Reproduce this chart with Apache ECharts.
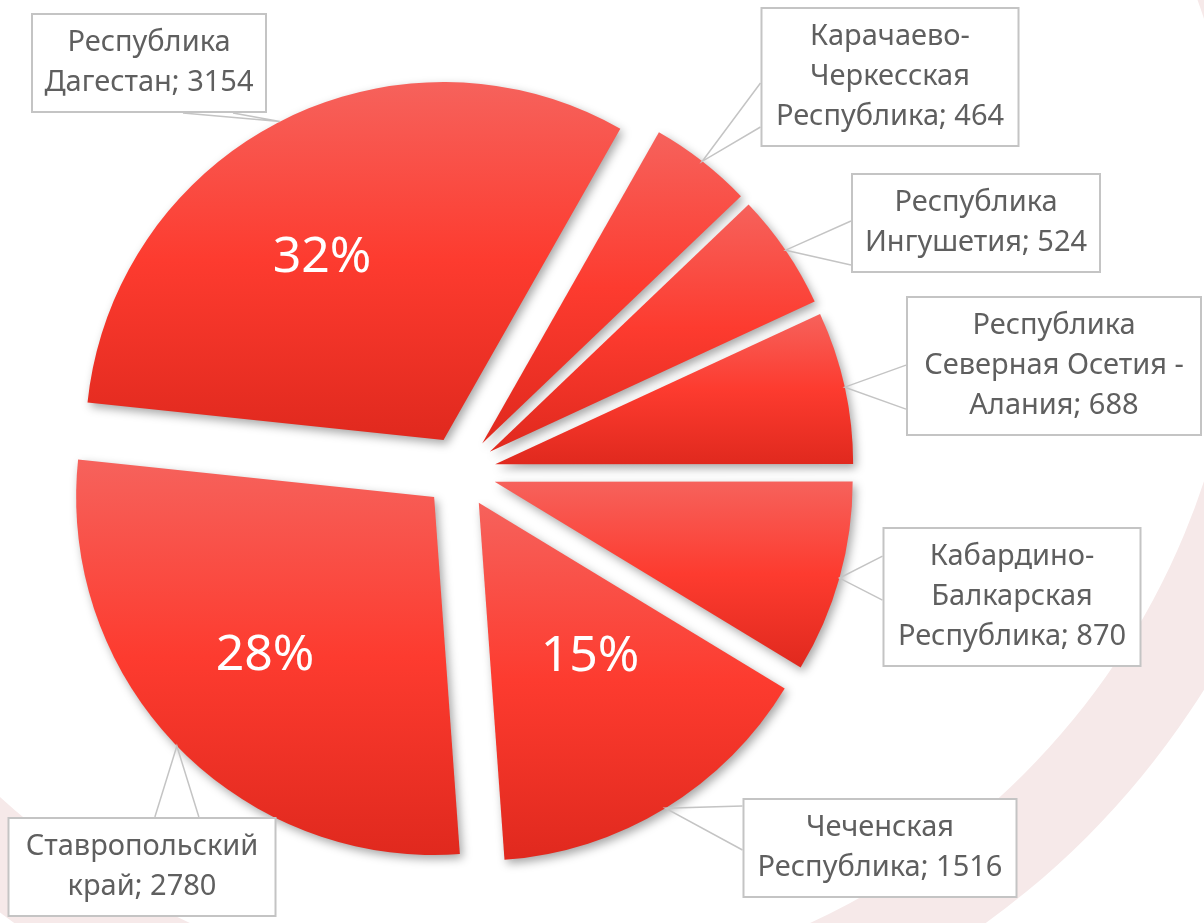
<!DOCTYPE html>
<html>
<head>
<meta charset="utf-8">
<script src="https://cdn.jsdelivr.net/npm/echarts@6/dist/echarts.min.js"></script>
<style>
  html, body { margin: 0; padding: 0; background: #fff; }
  #chart { width: 1204px; height: 923px; }
</style>
</head>
<body>
<div id="chart"></div>
<script>
const regions = [
  'Республика\nДагестан',
  'Карачаево-\nЧеркесская\nРеспублика',
  'Республика\nИнгушетия',
  'Республика\nСеверная Осетия -\nАлания',
  'Кабардино-\nБалкарская\nРеспублика',
  'Чеченская\nРеспублика',
  'Ставропольский\nкрай'
];
const counts = [3154, 464, 524, 688, 870, 1516, 2780];

// callout boxes: centre, outer width, side of the wedge
const boxCenters = [[149, 63], [890, 77], [976, 223], [1054, 366], [1012, 597], [880, 848], [142, 867]];
const boxWidths = [232, 255, 246, 292, 255, 271, 265];
const wedgeSides = ['bottom', 'left', 'left', 'left', 'left', 'left', 'top'];
// where the big percentages sit
const pctCenters = [[322, 258], null, null, null, null, [590, 657], [265, 656]];

const PIE_CENTER = [460, 472];
const EXPLODE = 36;

const chart = echarts.init(document.getElementById('chart'));

const sliceFill = {
  type: 'linear', x: 0, y: 0, x2: 0, y2: 1,
  colorStops: [
    { offset: 0, color: '#f6625c' },
    { offset: 0.5, color: '#fd3b2f' },
    { offset: 1, color: '#e0291e' }
  ]
};
const clear = 'rgba(0,0,0,0)';

const clamp = (v, a, b) => Math.max(a, Math.min(b, v));

function pieData(opts) {
  return regions.map((name, i) => {
    const item = { name: name, value: counts[i] };
    if (opts.selected) item.selected = true;
    if (opts.labelWidth) item.label = { width: boxWidths[i] - 20 };
    return item;
  });
}

const pieBase = {
  type: 'pie',
  center: PIE_CENTER,
  radius: 358,
  startAngle: 174,
  clockwise: true,
  avoidLabelOverlap: false,
  emphasis: { disabled: true }
};

// slice edge point pushed out like the exploded slice
function explodedTip(pt) {
  const dx = pt[0] - PIE_CENTER[0], dy = pt[1] - PIE_CENTER[1];
  const d = Math.sqrt(dx * dx + dy * dy) || 1;
  return [pt[0] + dx / d * EXPLODE, pt[1] + dy / d * EXPLODE];
}

chart.setOption({
  animation: false,
  backgroundColor: '#fff',
  graphic: [{
    type: 'ring',
    silent: true,
    z: -10,
    shape: { cx: 500, cy: 250, r: 830, r0: 741 },
    style: { fill: '#f6e9e9' }
  }],
  series: [
    // the visible, exploded slices
    Object.assign({}, pieBase, {
      z: 2,
      selectedMode: 'multiple',
      selectedOffset: EXPLODE,
      data: pieData({ selected: true }),
      itemStyle: {
        color: sliceFill,
        shadowBlur: 10,
        shadowOffsetX: 3,
        shadowOffsetY: 4,
        shadowColor: 'rgba(0,0,0,0.35)'
      },
      select: { itemStyle: { color: sliceFill } },
      label: { show: false },
      labelLine: { show: false }
    }),
    // percentages inside the big slices
    Object.assign({}, pieBase, {
      z: 3,
      silent: true,
      data: pieData({}),
      itemStyle: { color: clear, borderWidth: 0 },
      label: {
        show: true,
        position: 'inside',
        color: '#fff',
        fontFamily: 'Noto Sans',
        fontSize: 50,
        formatter: p => (p.percent >= 10 ? Math.round(p.percent) + '%' : '')
      },
      labelLine: { show: false },
      labelLayout: p => {
        const c = pctCenters[p.dataIndex];
        return c ? { x: c[0], y: c[1], align: 'center', verticalAlign: 'middle' } : {};
      }
    }),
    // callout boxes with wedges
    Object.assign({}, pieBase, {
      z: 4,
      silent: true,
      data: pieData({ labelWidth: true }),
      itemStyle: { color: clear, borderWidth: 0 },
      label: {
        show: true,
        position: 'outside',
        color: '#5f5f5f',
        fontFamily: 'Noto Sans',
        fontSize: 29,
        lineHeight: 40,
        align: 'center',
        overflow: 'none',
        padding: [8, 10],
        backgroundColor: '#fff',
        borderColor: '#c4c4c4',
        borderWidth: 2,
        formatter: p => p.name + '; ' + p.value
      },
      labelLine: {
        show: true,
        lineStyle: { color: '#c4c4c4', width: 1.5 }
      },
      labelLayout: p => {
        const i = p.dataIndex;
        const cx = boxCenters[i][0], cy = boxCenters[i][1];
        const w = p.labelRect.width, h = p.labelRect.height;
        const left = cx - w / 2, top = cy - h / 2;
        const tip = explodedTip(p.labelLinePoints[0]);
        let a, b;
        if (wedgeSides[i] === 'left') {
          const m = clamp(tip[1], top + 0.3 * h, top + 0.7 * h);
          a = [left, m - 22]; b = [left, m + 22];
        } else if (wedgeSides[i] === 'bottom') {
          const m = clamp(tip[0], left + 0.25 * w, left + 0.75 * w);
          a = [m - 25, top + h]; b = [m + 25, top + h];
        } else {
          const m = clamp(tip[0], left + 0.25 * w, left + 0.75 * w);
          a = [m - 22, top]; b = [m + 22, top];
        }
        return {
          x: cx, y: cy, align: 'center', verticalAlign: 'middle',
          labelLinePoints: [a, tip, b]
        };
      }
    })
  ]
});
</script>
</body>
</html>
